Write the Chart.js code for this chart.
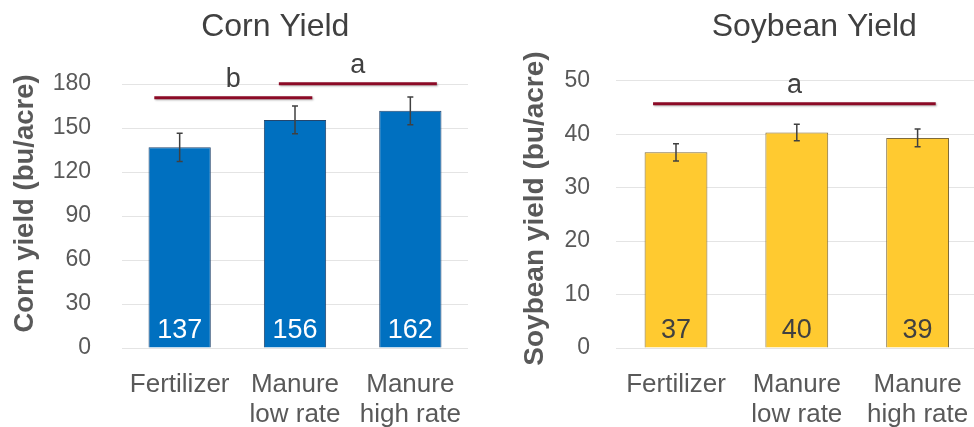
<!DOCTYPE html>
<html>
<head>
<meta charset="utf-8">
<script src="https://cdn.jsdelivr.net/npm/chart.js@4"></script>
<style>
  html, body { margin:0; padding:0; background:#fff; }
  body { width:974px; height:427px; overflow:hidden; position:relative; }
  .panel { position:absolute; top:0; height:427px; }
</style>
</head>
<body>
<div class="panel" style="left:0;width:487px"><canvas id="corn" width="487" height="427"></canvas></div>
<div class="panel" style="left:487px;width:500px"><canvas id="soy" width="500" height="427"></canvas></div>
<script>
// ---- data ----
const categories = [['Fertilizer'], ['Manure', 'low rate'], ['Manure', 'high rate']];

const cornTitle = 'Corn Yield';
const cornAxisTitle = 'Corn yield (bu/acre)';
const cornYield = [136.8, 155.5, 161.7];
const cornError = [9.7, 9.5, 9.5];
const cornGroupLetters = ['b', 'a'];
const cornGroupFrom = [-0.22, 0.86];
const cornGroupTo = [1.15, 2.23];
const cornGroupLevel = [170.7, 180.2];

const soyTitle = 'Soybean Yield';
const soyAxisTitle = 'Soybean yield (bu/acre)';
const soyYield = [36.6, 40.3, 39.3];
const soyError = [1.6, 1.55, 1.65];
const soyGroupLetters = ['a'];
const soyGroupFrom = [-0.19];
const soyGroupTo = [2.15];
const soyGroupLevel = [45.7];

// ---- styles ----
const FONT = "'Liberation Sans', Arial, Helvetica, sans-serif";
Chart.defaults.font.family = FONT;
const TEXT = '#404040';
const TICK = '#595959';

const extras = {
  id: 'extras',
  afterDatasetsDraw(chart, args, o) {
    const ctx = chart.ctx;
    const x = chart.scales.x, y = chart.scales.y;
    const meta = chart.getDatasetMeta(0);
    const vals = chart.data.datasets[0].data;
    ctx.save();
    // error bars
    ctx.strokeStyle = '#404040';
    ctx.lineWidth = 1.5;
    meta.data.forEach((bar, i) => {
      const v = vals[i], e = o.errors[i];
      const yt = y.getPixelForValue(v + e), yb = y.getPixelForValue(v - e);
      ctx.beginPath();
      ctx.moveTo(bar.x, yt); ctx.lineTo(bar.x, yb);
      ctx.moveTo(bar.x - 3, yt); ctx.lineTo(bar.x + 3, yt);
      ctx.moveTo(bar.x - 3, yb); ctx.lineTo(bar.x + 3, yb);
      ctx.stroke();
    });
    // value labels
    ctx.font = '27px ' + FONT;
    ctx.fillStyle = o.labelColor;
    ctx.textAlign = 'center';
    ctx.textBaseline = 'alphabetic';
    meta.data.forEach((bar, i) => {
      ctx.fillText(String(Math.round(vals[i])), bar.x, y.getPixelForValue(0) - 10);
    });
    // significance groups
    o.letters.forEach((L, i) => {
      const x1 = x.getPixelForValue(o.from[i]), x2 = x.getPixelForValue(o.to[i]);
      const yy = y.getPixelForValue(o.level[i]);
      ctx.save();
      ctx.shadowColor = 'rgba(0,0,0,0.3)';
      ctx.shadowBlur = 2; ctx.shadowOffsetX = 1; ctx.shadowOffsetY = 1;
      ctx.strokeStyle = '#8C0A26';
      ctx.lineWidth = 3;
      ctx.beginPath(); ctx.moveTo(x1, yy); ctx.lineTo(x2, yy); ctx.stroke();
      ctx.restore();
      ctx.font = '27px ' + FONT;
      ctx.fillStyle = TEXT;
      ctx.fillText(L, (x1 + x2) / 2, yy - 10.5);
    });
    // chart title
    ctx.font = '32px ' + FONT;
    ctx.fillStyle = TEXT;
    ctx.fillText(o.title, o.titleX, 36);
    // axis title
    ctx.save();
    ctx.translate(o.axisX, o.axisY);
    ctx.rotate(-Math.PI / 2);
    ctx.font = 'bold ' + o.axisSize + 'px ' + FONT;
    ctx.fillStyle = TICK;
    ctx.textBaseline = 'middle';
    ctx.fillText(o.axisTitle, 0, 0);
    ctx.restore();
    ctx.restore();
  }
};

function makeChart(id, vals, color, border, maxV, step, lay, ext, barPct, tickPad) {
  return new Chart(document.getElementById(id), {
    type: 'bar',
    data: {
      labels: categories,
      datasets: [{
        data: vals,
        backgroundColor: color,
        borderColor: border,
        borderWidth: 1,
        barPercentage: barPct,
        categoryPercentage: 1
      }]
    },
    options: {
      responsive: false,
      animation: false,
      events: [],
      layout: { padding: { left: 0, right: lay.right, top: lay.top, bottom: 0 } },
      plugins: { legend: { display: false }, tooltip: { enabled: false }, extras: ext },
      scales: {
        x: {
          grid: { display: false },
          border: { display: false },
          ticks: { color: TICK, font: { size: 26, lineHeight: 30 / 26 }, padding: 14, maxRotation: 0, autoSkip: false },
          afterFit: s => { s.height = 79; }
        },
        y: {
          min: 0, max: maxV,
          grid: { color: '#e4e4e4', lineWidth: 1, drawTicks: false },
          border: { display: false },
          ticks: { stepSize: step, color: TICK, font: { size: 23 }, padding: tickPad },
          afterFit: s => { s.width = lay.left; }
        }
      }
    },
    plugins: [extras]
  });
}

makeChart('corn', cornYield, '#0070C0', '#24466E', 180, 30,
  { left: 122, right: 19, top: 84 },
  { errors: cornError, labelColor: '#ffffff', letters: cornGroupLetters, from: cornGroupFrom, to: cornGroupTo,
    level: cornGroupLevel, title: cornTitle, titleX: 275.3, axisTitle: cornAxisTitle, axisX: 25.8, axisY: 203.5, axisSize: 27.5 },
  0.54, 31);

makeChart('soy', soyYield, '#FFCA30', '#7F6A3A', 50, 10,
  { left: 128.6, right: 9, top: 80.7 },
  { errors: soyError, labelColor: '#404040', letters: soyGroupLetters, from: soyGroupFrom, to: soyGroupTo,
    level: soyGroupLevel, title: soyTitle, titleX: 327.3, axisTitle: soyAxisTitle, axisX: 48.5, axisY: 208.5, axisSize: 28 },
  0.52, 25.6);
</script>
</body>
</html>
